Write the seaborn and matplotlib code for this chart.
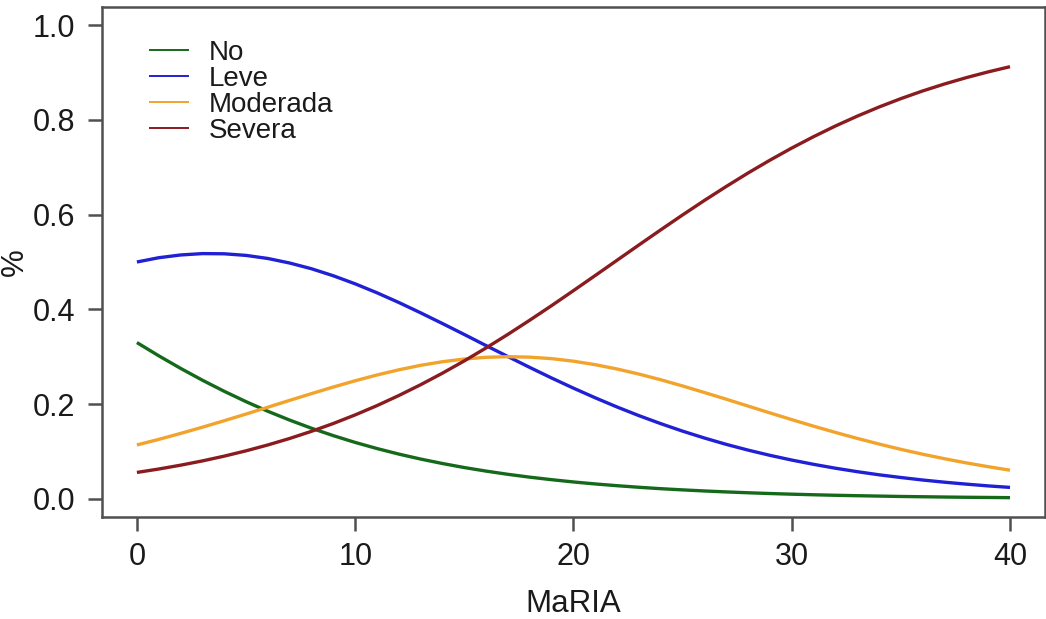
import matplotlib
matplotlib.use("Agg")
import matplotlib.pyplot as plt
import numpy as np
import pandas as pd
import seaborn as sns

# Predicted probability of each severity class along the MaRIA score
maria = list(range(0, 41))
p_no = [0.330, 0.3021, 0.2756, 0.2506, 0.2272, 0.2053, 0.1850, 0.1664,
        0.1492, 0.1336, 0.1193, 0.1064, 0.0947, 0.0842, 0.0748, 0.0663,
        0.0588, 0.0520, 0.0460, 0.0407, 0.0359, 0.0317, 0.0280, 0.0247,
        0.0217, 0.0192, 0.0169, 0.0149, 0.0131, 0.0115, 0.0101, 0.0089,
        0.0078, 0.0069, 0.0061, 0.0053, 0.0047, 0.0041, 0.0036, 0.0032,
        0.0028]
p_leve = [0.500, 0.5090, 0.5148, 0.5177, 0.5173, 0.5139, 0.5074, 0.4978,
          0.4857, 0.4709, 0.4539, 0.4350, 0.4145, 0.3927, 0.3701, 0.3470,
          0.3235, 0.3004, 0.2775, 0.2552, 0.2338, 0.2134, 0.1940, 0.1758,
          0.1589, 0.1431, 0.1286, 0.1152, 0.1031, 0.0921, 0.0821, 0.0731,
          0.0649, 0.0576, 0.0510, 0.0453, 0.0400, 0.0354, 0.0313, 0.0276,
          0.0244]
p_moderada = [0.114, 0.1257, 0.1383, 0.1514, 0.1651, 0.1792, 0.1936, 0.2081,
              0.2223, 0.2362, 0.2494, 0.2616, 0.2725, 0.2820, 0.2896, 0.2953,
              0.2989, 0.3002, 0.2992, 0.2961, 0.2907, 0.2833, 0.2742, 0.2635,
              0.2515, 0.2384, 0.2246, 0.2105, 0.1960, 0.1816, 0.1674, 0.1536,
              0.1404, 0.1278, 0.1159, 0.1047, 0.0944, 0.0849, 0.0761, 0.0681,
              0.0607]
p_severa = [0.056, 0.0632, 0.0713, 0.0803, 0.0904, 0.1016, 0.1140, 0.1277,
            0.1428, 0.1593, 0.1774, 0.1970, 0.2183, 0.2411, 0.2655, 0.2914,
            0.3188, 0.3474, 0.3773, 0.4080, 0.4396, 0.4716, 0.5038, 0.5360,
            0.5679, 0.5993, 0.6299, 0.6594, 0.6878, 0.7148, 0.7404, 0.7644,
            0.7869, 0.8077, 0.8270, 0.8447, 0.8609, 0.8756, 0.8890, 0.9011,
            0.9121]
labels = ["No", "Leve", "Moderada", "Severa"]
x_ticks = [0, 10, 20, 30, 40]
y_ticks = [0.0, 0.2, 0.4, 0.6, 0.8, 1.0]

colors = ["#15691a", "#2020d4", "#f2a32c", "#8a1c1f"]
axis_grey = "#505050"

df = pd.concat(
    [pd.DataFrame({"MaRIA": maria, "p": vals, "grupo": lab})
     for lab, vals in zip(labels, [p_no, p_leve, p_moderada, p_severa])],
    ignore_index=True,
)

sns.set_theme(style="white")
plt.rcParams["font.family"] = ["Liberation Sans", "DejaVu Sans"]

fig = plt.figure(figsize=(10.46, 6.19), dpi=100)
ax = fig.add_axes([0.0975, 0.1648, 0.9015, 0.8239])

sns.lineplot(data=df, x="MaRIA", y="p", hue="grupo", hue_order=labels,
             palette=colors, linewidth=2.4, ax=ax, legend=True)
for ln in ax.get_lines():
    ln.set_solid_capstyle("butt")
    ln.set_solid_joinstyle("round")

ax.set_xlim(-1.6, 41.6)
ax.set_ylim(-0.038, 1.038)
ax.set_xticks(x_ticks)
ax.set_xticklabels([str(v) for v in x_ticks])
ax.set_yticks(y_ticks)
ax.set_yticklabels([f"{v:.1f}" for v in y_ticks])

for sp in ax.spines.values():
    sp.set_visible(True)
    sp.set_color(axis_grey)
    sp.set_linewidth(1.8)

ax.tick_params(axis="both", which="major", direction="out", length=10,
               width=1.8, color=axis_grey, labelsize=22, labelcolor="#1a1a1a",
               bottom=True, left=True)
ax.tick_params(axis="x", pad=8)
ax.tick_params(axis="y", pad=9)

ax.set_xlabel("MaRIA", fontsize=22.5, color="#1a1a1a", labelpad=12)
ax.set_ylabel("%", fontsize=22.5, color="#1a1a1a", labelpad=2)

leg = ax.legend(loc="upper left", bbox_to_anchor=(0.050, 0.936),
                frameon=False, fontsize=20, handlelength=1.45,
                handletextpad=0.7, labelspacing=0.0, borderpad=0,
                borderaxespad=0)
for ln in leg.get_lines():
    ln.set_linewidth(1.4)
for t in leg.get_texts():
    t.set_color("#1a1a1a")

fig.savefig("out.png", dpi=100, facecolor="white")
